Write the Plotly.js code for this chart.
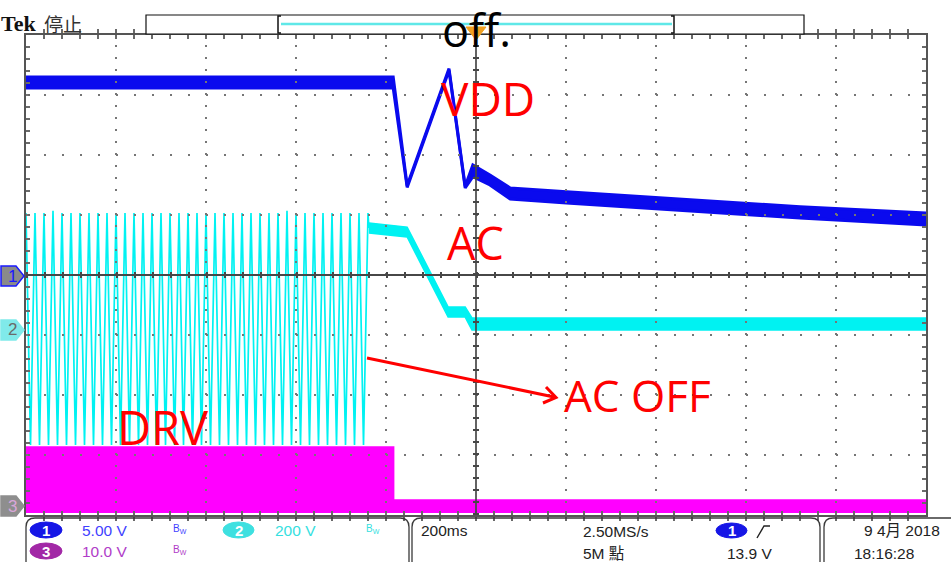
<!DOCTYPE html>
<html>
<head>
<meta charset="utf-8">
<script src="https://cdn.plot.ly/plotly-3.0.1.min.js"></script>
<style>
  html, body { margin: 0; padding: 0; background: #ffffff; }
  #scope { width: 951px; height: 562px; }
</style>
</head>
<body>
<div id="scope"></div>
<script>
// ---- Channel 1: VDD (5 V/div), upper / lower edge of the trace band, time in ms ----
const vddTime  = [-1000, -184, -153,  -60,  -24,   -7,   31,   76,  201,  498,  720, 1000];
const vddUpper = [ 16.5, 16.5, 7.45, 17.2, 7.40, 9.17, 8.33, 7.25, 6.94, 6.25, 5.69, 5.17];
const vddLower = [15.58, 15.58, 7.30, 17.05, 7.25, 8.20, 7.50, 6.33, 6.00, 5.25, 4.75, 4.17];

// ---- Channel 2: AC line (200 V/div), mains peaks while AC is present ----
const acTime = [
  -1000, -990, -980, -970, -960, -950, -940, -930, -920, -910,
   -900, -890, -880, -870, -860, -850, -840, -830, -820, -810,
   -800, -790, -780, -770, -760, -750, -740, -730, -720, -710,
   -700, -690, -680, -670, -660, -650, -640, -630, -620, -610,
   -600, -590, -580, -570, -560, -550, -540, -530, -520, -510,
   -500, -490, -480, -470, -460, -450, -440, -430, -420, -410,
   -400, -390, -380, -370, -360, -350, -340, -330, -320, -310,
   -300, -290, -280, -270, -260, -250, -240, -238
];
const acVolt = [
   390, -383,  390, -383,  390, -383,  397, -383,  390, -383,
   390, -383,  390, -383,  390, -383,  390, -383,  390, -383,
   390, -383,  390, -383,  390, -383,  390, -383,  390, -383,
   390, -383,  390, -383,  390, -383,  390, -383,  390, -383,
   390, -383,  390, -383,  390, -383,  390, -383,  390, -383,
   390, -383,  390, -383,  390, -383,  390, -383,  397, -383,
   390, -383,  390, -383,  390, -383,  390, -383,  390, -383,
   390, -383,  390, -383,  390, -383,  390,  340
];
// AC after switch-off: upper / lower edge of the band
const acOffTime  = [-238, -153, -62, -24,  -9, 1000];
const acOffUpper = [ 357,  343,  77,  77,  40,   40];
const acOffLower = [ 323,  310,  43,  43,   0,    0];

// ---- Channel 3: DRV (10 V/div), switching envelope ----
const drvTime  = [-1000, -183, -183, 1000];
const drvUpper = [  9.9,  9.9,  1.1,  1.1];
const drvLower = [ -1.0, -1.0, -1.0, -1.0];

// ---- Readouts ----
const ch1Scale = '5.00 V', ch2Scale = '200 V', ch3Scale = '10.0 V';
const timeBase = '200ms', sampleRate = '2.50MS/s', recordLen = '5M 點';
const trigLevel = '13.9 V', dateText = '9 4月 2018', timeText = '18:16:28';

// ---- Screen geometry ----
const L = 26, T = 35, PW = 900, PH = 480;
const fx = X => (X - L) / PW;
const fy = Y => (T + PH - Y) / PH;
function path(cmds) {
  return cmds.map(c => c[0] + c.slice(1).map((v, i) =>
    (i % 2 === 0 ? fx(v) : fy(v)).toFixed(5)).join(',')).join(' ');
}

const BLUE = '#0a0aee', CYAN = '#00f2f2', MAG = '#ff00ff';

const traces = [
  { x: vddTime, y: vddLower, xaxis: 'x', yaxis: 'y', mode: 'lines',
    line: { color: BLUE, width: 3 }, hoverinfo: 'skip' },
  { x: vddTime, y: vddUpper, xaxis: 'x', yaxis: 'y', mode: 'lines', fill: 'tonexty',
    fillcolor: BLUE, line: { color: BLUE, width: 3 }, hoverinfo: 'skip' },

  { x: acTime, y: acVolt, xaxis: 'x', yaxis: 'y2', mode: 'lines',
    line: { color: CYAN, width: 1.7 }, hoverinfo: 'skip' },
  { x: acOffTime, y: acOffLower, xaxis: 'x', yaxis: 'y2', mode: 'lines',
    line: { color: CYAN, width: 1.5 }, hoverinfo: 'skip' },
  { x: acOffTime, y: acOffUpper, xaxis: 'x', yaxis: 'y2', mode: 'lines', fill: 'tonexty',
    fillcolor: CYAN, line: { color: CYAN, width: 1.5 }, hoverinfo: 'skip' },

  { x: drvTime, y: drvLower, xaxis: 'x', yaxis: 'y3', mode: 'lines',
    line: { color: MAG, width: 1 }, hoverinfo: 'skip' },
  { x: drvTime, y: drvUpper, xaxis: 'x', yaxis: 'y3', mode: 'lines', fill: 'tonexty',
    fillcolor: MAG, line: { color: MAG, width: 1.5 }, hoverinfo: 'skip' }
];

const shapes = [];
const GRID = '#767676', AXIS = '#474747';
// dotted division lines
for (let i = 1; i < 10; i++) {
  if (i === 5) continue;
  const t = -1000 + i * 200;
  shapes.push({ type: 'line', xref: 'x', yref: 'paper', x0: t, x1: t, y0: 0, y1: 1, layer: 'above',
    line: { color: GRID, width: 2, dash: '2px,10px' } });
}
for (let j = 1; j < 8; j++) {
  if (j === 4) continue;
  const v = -20 + j * 5;
  shapes.push({ type: 'line', xref: 'paper', yref: 'y', x0: 0, x1: 1, y0: v, y1: v, layer: 'above',
    line: { color: GRID, width: 2, dash: '2px,16px' } });
}
// centre lines with minor-division marks
shapes.push({ type: 'line', xref: 'x', yref: 'paper', x0: 0, x1: 0, y0: 0, y1: 1, layer: 'above',
  line: { color: AXIS, width: 1.7 } });
shapes.push({ type: 'line', xref: 'x', yref: 'paper', x0: 0, x1: 0, y0: 0, y1: 1, layer: 'above',
  line: { color: AXIS, width: 6, dash: '2px,10px' } });
shapes.push({ type: 'line', xref: 'paper', yref: 'y', x0: 0, x1: 1, y0: 0, y1: 0, layer: 'above',
  line: { color: AXIS, width: 2 } });
shapes.push({ type: 'line', xref: 'paper', yref: 'y', x0: 0, x1: 1, y0: 0, y1: 0, layer: 'above',
  line: { color: AXIS, width: 6, dash: '2px,16px' } });

// record-length bar at the top
shapes.push({ type: 'rect', xref: 'paper', yref: 'paper', x0: fx(146), x1: fx(804), y0: fy(34), y1: fy(15),
  line: { color: '#111', width: 1.2 }, fillcolor: '#ffffff', layer: 'above' });
shapes.push({ type: 'line', xref: 'paper', yref: 'paper', x0: fx(281), x1: fx(672), y0: fy(24), y1: fy(24),
  line: { color: '#5fe8e8', width: 2.5 }, layer: 'above' });
shapes.push({ type: 'path', xref: 'paper', yref: 'paper', layer: 'above',
  path: path([['M', 281, 16], ['L', 278, 16], ['L', 278, 33], ['L', 281, 33]]),
  line: { color: '#111', width: 1.5 } });
shapes.push({ type: 'path', xref: 'paper', yref: 'paper', layer: 'above',
  path: path([['M', 671, 16], ['L', 674, 16], ['L', 674, 33], ['L', 671, 33]]),
  line: { color: '#111', width: 1.5 } });
// trigger position marker
shapes.push({ type: 'path', xref: 'paper', yref: 'paper', layer: 'above',
  path: path([['M', 466, 27], ['L', 486, 27], ['L', 476, 40], ['Z']]),
  fillcolor: '#f0a020', line: { color: '#f0a020', width: 1 } });

// channel ground markers
function marker(yc, fill, edge) {
  return { type: 'path', xref: 'paper', yref: 'paper', layer: 'above',
    path: path([['M', 1, yc - 10], ['L', 16, yc - 10], ['L', 24, yc], ['L', 16, yc + 10], ['L', 1, yc + 10], ['Z']]),
    fillcolor: fill, line: { color: edge, width: 1.5 } };
}
shapes.push(marker(276, '#8a8a8a', '#1a1aff'));
shapes.push(marker(330, '#80eaea', '#80eaea'));
shapes.push(marker(506, '#8e8e8e', '#8e8e8e'));

// status bar panels
const PANEL = { color: '#3a3a3a', width: 1.3 };
shapes.push({ type: 'path', xref: 'paper', yref: 'paper', line: PANEL,
  path: path([['M', 26, 563], ['L', 26, 527], ['Q', 26, 518, 35, 518], ['L', 400, 518], ['Q', 409, 518, 409, 527], ['L', 409, 563]]) });
shapes.push({ type: 'path', xref: 'paper', yref: 'paper', line: PANEL,
  path: path([['M', 412, 563], ['L', 412, 527], ['Q', 412, 518, 421, 518], ['L', 811, 518], ['Q', 820, 518, 820, 527], ['L', 820, 563]]) });
shapes.push({ type: 'path', xref: 'paper', yref: 'paper', line: PANEL,
  path: path([['M', 824, 563], ['L', 824, 527], ['Q', 824, 518, 833, 518], ['L', 952, 518]]) });
// channel badges
function badge(x0, x1, y0, y1, fill) {
  return { type: 'circle', xref: 'paper', yref: 'paper', x0: fx(x0), x1: fx(x1), y0: fy(y1), y1: fy(y0),
    fillcolor: fill, line: { color: fill, width: 1 } };
}
shapes.push(badge(30, 62, 522, 538, '#1616e6'));
shapes.push(badge(223, 254, 522, 538, '#3ee0e0'));
shapes.push(badge(30, 62, 543, 559, '#a228a6'));
shapes.push(badge(716, 747, 523, 538, '#1616e6'));
// trigger slope symbol
shapes.push({ type: 'path', xref: 'paper', yref: 'paper',
  path: path([['M', 757, 538], ['L', 764, 526], ['L', 770, 526]]), line: { color: '#222', width: 1.4 } });

// annotation arrow (AC OFF)
const RED = '#ff0000';
shapes.push({ type: 'line', xref: 'paper', yref: 'paper', layer: 'above',
  x0: fx(367), y0: fy(358), x1: fx(554), y1: fy(397), line: { color: RED, width: 3 } });
shapes.push({ type: 'path', xref: 'paper', yref: 'paper', layer: 'above',
  path: path([['M', 546, 387], ['L', 556, 397.5], ['L', 543, 403]]), line: { color: RED, width: 3 } });

// ---- Text ----
const SANS = 'Liberation Sans, Arial, Noto Sans CJK TC, sans-serif';
const LABEL = 'Open Sans, Noto Sans, sans-serif';
function txt(text, X, Y, size, color, family, xanchor, extra) {
  return Object.assign({ text: text, xref: 'paper', yref: 'paper', x: fx(X), y: fy(Y),
    xanchor: xanchor || 'left', yanchor: 'middle', showarrow: false,
    font: { size: size, color: color, family: family || SANS } }, extra || {});
}
const annotations = [
  txt('off.', 477, 29, 45, '#000000', LABEL, 'center'),
  txt('VDD', 488, 98, 46, RED, LABEL, 'center'),
  txt('AC', 475, 242, 45, RED, LABEL, 'center'),
  txt('AC OFF', 637, 395, 44, RED, LABEL, 'center'),
  txt('DRV', 163, 427, 47, RED, LABEL, 'center'),

  txt('<b>Tek</b>', -1, 23, 22, '#111', 'Liberation Serif, DejaVu Serif, serif', 'left'),
  txt('停止', 42, 23, 19, '#333', 'Noto Sans CJK TC, sans-serif', 'left'),

  txt('1', 12, 276, 17, '#1a1aff', SANS, 'center'),
  txt('2', 12, 330, 17, '#6a6a6a', SANS, 'center'),
  txt('3', 12, 506, 17, '#d9a6d9', SANS, 'center'),

  txt('<b>1</b>', 46, 530, 15, '#ffffff', SANS, 'center'),
  txt('<b>2</b>', 238.5, 530, 15, '#ffffff', SANS, 'center'),
  txt('<b>3</b>', 46, 551, 15, '#ffffff', SANS, 'center'),
  txt(ch1Scale, 80, 530, 15.5, '#3f3fff'),
  txt(ch2Scale, 273, 530, 15.5, '#35e0e0'),
  txt(ch3Scale, 80, 551, 15.5, '#b03cc8'),
  txt('B<sub>W</sub>', 171, 529, 10, '#3f3fff'),
  txt('B<sub>W</sub>', 364, 529, 10, '#35e0e0'),
  txt('B<sub>W</sub>', 171, 550, 10, '#b03cc8'),

  txt(timeBase, 419, 530, 15.5, '#222'),
  txt(sampleRate, 581, 531, 15.5, '#222'),
  txt(recordLen, 581, 553, 15.5, '#222'),
  txt('<b>1</b>', 731.5, 530.5, 15, '#ffffff', SANS, 'center'),
  txt(trigLevel, 725, 553, 15.5, '#222'),
  txt(dateText, 862, 530, 15.5, '#222'),
  txt(timeText, 852, 553, 15.5, '#222')
];

const layout = {
  width: 951, height: 562,
  margin: { l: L, r: 951 - L - PW, t: T, b: 562 - T - PH, pad: 0 },
  paper_bgcolor: '#ffffff', plot_bgcolor: '#ffffff',
  showlegend: false, hovermode: false,
  xaxis: { range: [-1000, 1000], showgrid: false, zeroline: false, showticklabels: false,
    ticks: 'inside', ticklen: 4, tickwidth: 1.5, tickcolor: '#6a6a6a', tick0: 0, dtick: 40,
    showline: true, linecolor: '#555555', linewidth: 2, mirror: 'allticks',
    layer: 'above traces', fixedrange: true },
  yaxis: { range: [-20, 20], showgrid: false, zeroline: false, showticklabels: false,
    ticks: 'inside', ticklen: 4, tickwidth: 1.5, tickcolor: '#6a6a6a', tick0: 0, dtick: 1,
    showline: true, linecolor: '#555555', linewidth: 2, mirror: 'allticks',
    layer: 'above traces', fixedrange: true },
  // ch2 ground 0.917 div below centre, 200 V/div
  yaxis2: { range: [-616.7, 983.3], overlaying: 'y', visible: false, fixedrange: true },
  // ch3 ground 3.858 div below centre, 10 V/div
  yaxis3: { range: [-1.42, 78.58], overlaying: 'y', visible: false, fixedrange: true },
  shapes: shapes,
  annotations: annotations
};

Plotly.newPlot('scope', traces, layout, { displayModeBar: false, staticPlot: true });
</script>
</body>
</html>
